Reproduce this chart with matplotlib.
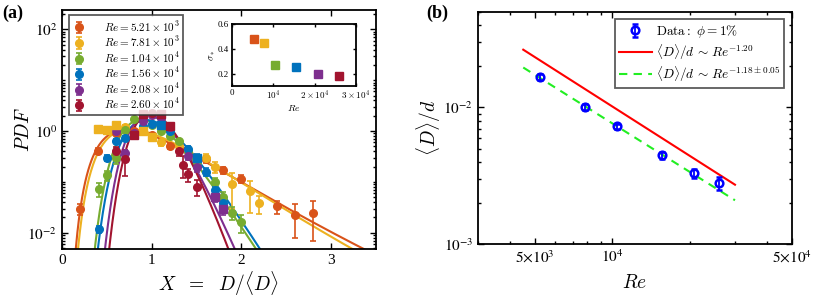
import numpy as np
import matplotlib
matplotlib.use('Agg')
import matplotlib.pyplot as plt
from matplotlib.ticker import FixedLocator, FixedFormatter, LogLocator, NullFormatter

plt.rcParams['font.family'] = ['Liberation Serif', 'DejaVu Serif']
plt.rcParams['mathtext.fontset'] = 'cm'

# ---------------- data : panel (a) ----------------
re_labels = [r'$Re = 5.21\times10^{3}$', r'$Re = 7.81\times10^{3}$', r'$Re = 1.04\times10^{4}$',
             r'$Re = 1.56\times10^{4}$', r'$Re = 2.08\times10^{4}$', r'$Re = 2.60\times10^{4}$']
colors = ['#D95319', '#EDB120', '#77AC30', '#0072BD', '#7E2F8E', '#A2142F']
re_values = [5.21e3, 7.81e3, 1.04e4, 1.56e4, 2.08e4, 2.60e4]
sigma_star = [0.478, 0.446, 0.267, 0.253, 0.20, 0.18]
# log-normal fit parameters for each curve
fit_mu = [-0.11, -0.08, -0.05, 0.0, 0.0, 0.02]
fit_sigma = [0.47, 0.44, 0.26, 0.25, 0.20, 0.18]

# circles (x, pdf, error)
c1_x = [0.2, 0.4, 0.6, 0.8, 1.0, 1.2, 1.4, 1.6, 1.8, 2.0, 2.4, 2.6, 2.8]
c1_y = [0.029, 0.41, 0.9, 1.0, 0.85, 0.5, 0.4, 0.28, 0.17, 0.115, 0.033, 0.022, 0.025]
c1_e = [0.007, 0.05, 0.08, 0.08, 0.07, 0.05, 0.05, 0.04, 0.03, 0.02, 0.01, 0.014, 0.018]
c2_x = [0.7, 1.1, 1.3, 1.6, 1.7, 1.9, 2.1, 2.2]
c2_y = [1.2, 0.6, 0.5, 0.30, 0.2, 0.09, 0.065, 0.038]
c2_e = [0.1, 0.08, 0.07, 0.05, 0.05, 0.06, 0.04, 0.015]
c3_x = [0.41, 0.5, 0.6, 0.7, 0.8, 1.0, 1.1, 1.2, 1.3, 1.4, 1.5, 1.7, 1.8, 1.9, 2.0]
c3_y = [0.074, 0.134, 0.29, 1.07, 1.7, 1.3, 1.0, 0.8, 0.65, 0.4, 0.25, 0.1, 0.05, 0.025, 0.016]
c3_e = [0.023, 0.03, 0.06, 0.1, 0.12, 0.1, 0.08, 0.07, 0.06, 0.05, 0.04, 0.02, 0.012, 0.007, 0.006]
c4_x = [0.41, 0.5, 0.6, 0.7, 0.9, 1.0, 1.2, 1.4, 1.6, 1.7, 1.8]
c4_y = [0.0117, 0.3, 0.63, 0.74, 1.26, 1.4, 1.0, 0.45, 0.16, 0.068, 0.038]
c4_e = [0.002, 0.04, 0.06, 0.07, 0.1, 0.1, 0.08, 0.05, 0.03, 0.015, 0.01]
c5_x = [0.6, 0.7, 0.8, 0.9, 1.0, 1.1, 1.2, 1.4, 1.5]
c5_y = [1.0, 0.37, 0.9, 1.6, 2.1, 1.8, 1.2, 0.32, 0.2]
c5_e = [0.1, 0.06, 0.1, 0.15, 0.15, 0.12, 0.1, 0.05, 0.04]
c6_x = [0.6, 0.7, 1.0, 1.3, 1.35, 1.4, 1.5]
c6_y = [0.4, 0.28, 2.3, 0.4, 0.22, 0.14, 0.08]
c6_e = [0.08, 0.15, 0.2, 0.08, 0.1, 0.04, 0.027]
circ_x = [c1_x, c2_x, c3_x, c4_x, c5_x, c6_x]
circ_y = [c1_y, c2_y, c3_y, c4_y, c5_y, c6_y]
circ_e = [c1_e, c2_e, c3_e, c4_e, c5_e, c6_e]

# squares (x, pdf, error)
s2_x = [0.4, 0.5, 0.6, 0.9, 1.0]
s2_y = [1.1, 1.05, 1.3, 1.0, 0.75]
s2_e = [0.15, 0.15, 0.15, 0.12, 0.12]
s4_x = [1.1, 1.5]
s4_y = [1.3, 0.3]
s4_e = [0.1, 0.05]
s5_x = [1.7, 1.8]
s5_y = [0.05, 0.03]
s5_e = [0.01, 0.008]
s6_x = [0.8, 0.9, 1.1, 1.2]
s6_y = [0.85, 2.2, 2.2, 1.26]
s6_e = [0.1, 0.2, 0.2, 0.12]
sq_sets = [(s2_x, s2_y, s2_e, 1), (s4_x, s4_y, s4_e, 3), (s5_x, s5_y, s5_e, 4), (s6_x, s6_y, s6_e, 5)]

# ---------------- data : panel (b) ----------------
re_b = [5210, 7810, 10400, 15600, 20800, 26000]
d_mean = [0.0168, 0.0101, 0.00726, 0.00446, 0.0033, 0.00279]
d_err = [0.0008, 0.0005, 0.0003, 0.00025, 0.00025, 0.0003]
fit_range = [4500, 30000]
red_pref, red_exp = 641.0, -1.20
green_pref, green_exp = 401.0, -1.18

# ---------------- figure ----------------
fig = plt.figure(figsize=(8.3, 3.0), dpi=100)

def style_axes(ax, lw=1.3):
    for s in ax.spines.values():
        s.set_linewidth(lw)
    ax.tick_params(which='both', direction='in', top=True, right=True, width=1.0)
    ax.tick_params(which='major', length=4)
    ax.tick_params(which='minor', length=2)

# panel (a)
axa = fig.add_axes([62/830, 1-249/300, 314/830, 239/300])
axa.set_yscale('log')
axa.set_xlim(0, 3.5)
axa.set_ylim(4.8e-3, 240)
xx = np.linspace(0.02, 3.5, 600)
for i in range(6):
    mu, sg = fit_mu[i], fit_sigma[i]
    pdf = np.exp(-(np.log(xx) - mu)**2 / (2*sg**2)) / (xx*sg*np.sqrt(2*np.pi))
    axa.plot(xx, pdf, color=colors[i], lw=1.5, zorder=2)
handles = []
for i in range(6):
    h = axa.errorbar(circ_x[i], circ_y[i], yerr=circ_e[i], fmt='o', color=colors[i],
                     ms=5.5, capsize=2.5, elinewidth=1.2, capthick=1.2, label=re_labels[i], zorder=3)
    handles.append(h)
for sx, sy, se, ci in sq_sets:
    axa.errorbar(sx, sy, yerr=se, fmt='s', color=colors[ci], ms=6, capsize=2.5,
                 elinewidth=1.2, capthick=1.2, zorder=3)
style_axes(axa)
axa.xaxis.set_major_locator(FixedLocator([0, 1, 2, 3]))
axa.xaxis.set_major_formatter(FixedFormatter(['0', '1', '2', '3']))
axa.yaxis.set_major_locator(FixedLocator([1e-2, 1e0, 1e2]))
axa.yaxis.set_major_formatter(FixedFormatter([r'$10^{-2}$', r'$10^{0}$', r'$10^{2}$']))
axa.yaxis.set_minor_locator(LogLocator(base=10, subs=np.arange(1, 10), numticks=30))
axa.yaxis.set_minor_formatter(NullFormatter())
for lab in axa.get_xticklabels() + axa.get_yticklabels():
    lab.set_fontsize(11)
    lab.set_math_fontfamily('stix')
axa.set_xlabel(r'$X\ \ =\ \ D/\langle D\rangle$', fontsize=14, labelpad=2)
axa.set_ylabel(r'$PDF$', fontsize=14, labelpad=-4)
leg = axa.legend(handles=handles, loc='upper left', bbox_to_anchor=(0.022, 0.979),
                 fontsize=8, frameon=True, fancybox=False, edgecolor='#333333',
                 borderaxespad=0, handlelength=1.2, labelspacing=0.08, borderpad=0.35,
                 handletextpad=1.6, handleheight=0.6)
leg.get_frame().set_linewidth(1.3)

# inset
axi = fig.add_axes([232/830, 1-86/300, 124/830, 62/300])
for i in range(6):
    axi.plot(re_values[i], sigma_star[i], 's', color=colors[i], ms=5.5)
axi.set_xlim(0, 3e4)
axi.set_ylim(0.1, 0.6)
style_axes(axi, lw=1.3)
axi.tick_params(which='major', length=2.5)
axi.xaxis.set_major_locator(FixedLocator([0, 1e4, 2e4, 3e4]))
axi.xaxis.set_major_formatter(FixedFormatter(['0', r'$10^4$', r'$2\times10^4$', r'$3\times10^4$']))
axi.yaxis.set_major_locator(FixedLocator([0.2, 0.4, 0.6]))
axi.yaxis.set_major_formatter(FixedFormatter(['0.2', '0.4', '0.6']))
for lab in axi.get_xticklabels() + axi.get_yticklabels():
    lab.set_fontsize(6.5)
axi.tick_params(pad=2)
axi.set_xlabel(r'$Re$', fontsize=7, labelpad=1)
axi.set_ylabel(r'$\sigma_*$', fontsize=7, labelpad=1)

# panel (b)
axb = fig.add_axes([478/830, 1-244/300, 314/830, 232/300])
axb.set_xscale('log')
axb.set_yscale('log')
axb.set_xlim(3000, 50000)
axb.set_ylim(1e-3, 0.05)
fr = np.array(fit_range, dtype=float)
axb.plot(fr, red_pref*fr**red_exp, color='#FF0000', lw=1.5,
         label=r'$\langle D\rangle/d\,\sim\,Re^{-1.20}$')
axb.plot(fr, green_pref*fr**green_exp, color='#22EE22', lw=1.5, ls=(0, (4, 3)),
         label=r'$\langle D\rangle/d\,\sim\,Re^{-1.18\pm0.05}$')
hd = axb.errorbar(re_b, d_mean, yerr=d_err, fmt='o', color='#0000FF', mfc='none', mew=1.8,
                  ms=5.5, capsize=2.5, elinewidth=1.3, capthick=1.3,
                  label=r'$\mathrm{Data{:}}\ \phi = 1\%$')
style_axes(axb)
axb.xaxis.set_major_locator(FixedLocator([5e3, 1e4, 5e4]))
axb.xaxis.set_major_formatter(FixedFormatter([r'$5{\times}10^{3}$', r'$10^{4}$', r'$5{\times}10^{4}$']))
axb.xaxis.set_minor_locator(FixedLocator([3e3, 4e3, 6e3, 7e3, 8e3, 9e3, 2e4, 3e4, 4e4]))
axb.xaxis.set_minor_formatter(NullFormatter())
axb.yaxis.set_major_locator(FixedLocator([1e-3, 1e-2]))
axb.yaxis.set_major_formatter(FixedFormatter([r'$10^{-3}$', r'$10^{-2}$']))
axb.yaxis.set_minor_locator(LogLocator(base=10, subs=np.arange(2, 10), numticks=30))
axb.yaxis.set_minor_formatter(NullFormatter())
for lab in axb.get_xticklabels() + axb.get_yticklabels():
    lab.set_fontsize(11)
    lab.set_math_fontfamily('stix')
axb.set_xlabel(r'$Re$', fontsize=14, labelpad=6)
axb.set_ylabel(r'$\langle D\rangle/d$', fontsize=14, labelpad=0)
lh, ll = axb.get_legend_handles_labels()
order = [2, 0, 1]
legb = axb.legend([lh[k] for k in order], [ll[k] for k in order], loc='upper right',
                  bbox_to_anchor=(0.975, 0.97), fontsize=9.5, fancybox=False,
                  edgecolor='#333333', borderaxespad=0, handlelength=2.5,
                  labelspacing=0.15, borderpad=0.3, handletextpad=0.3)
legb.get_frame().set_linewidth(1.3)

fig.text(2/830, 1-13/300, '(a)', fontsize=13, fontweight='bold', va='center', ha='left')
fig.text(426/830, 1-13/300, '(b)', fontsize=13, fontweight='bold', va='center', ha='left')

fig.savefig('out.png', dpi=100)
